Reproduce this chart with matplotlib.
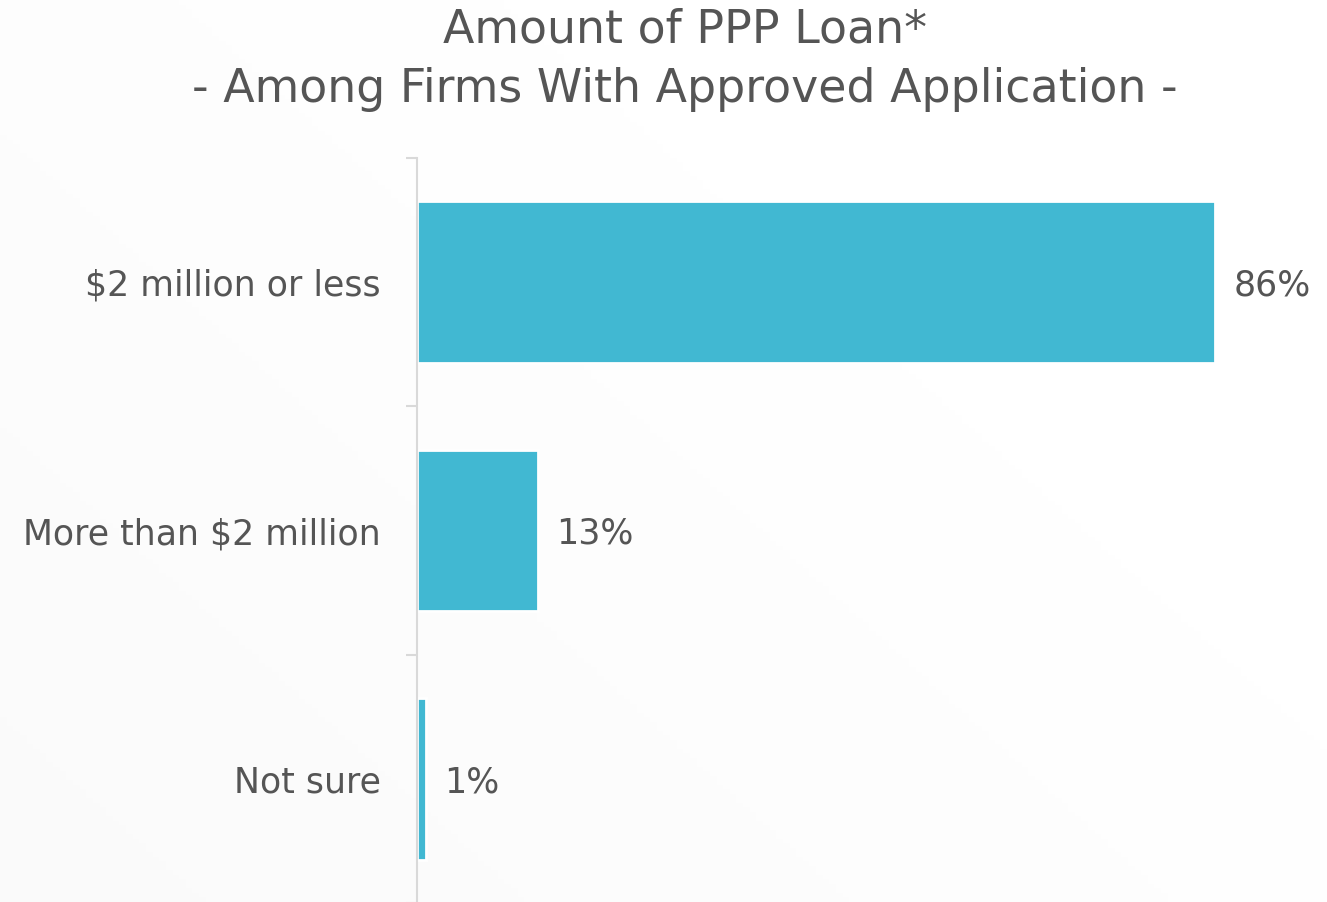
import matplotlib.pyplot as plt
import numpy as np

# datos
categories = ["$2 million or less", "More than $2 million", "Not sure"]
values = [86, 13, 1]
value_labels = ["86%", "13%", "1%"]

title_lines = ["Amount of PPP Loan*", "- Among Firms With Approved Application -"]

BAR_COLOR = "#41B8D2"
TEXT_COLOR = "#555555"
AXIS_COLOR = "#D9D9D9"

plt.rcParams['font.family'] = ['DejaVu Sans']

W, H = 1327, 902
fig = plt.figure(figsize=(W / 100, H / 100), dpi=100)
fig.patch.set_facecolor("white")

# fondo con degradado suave
bg = fig.add_axes([0, 0, 1, 1], zorder=-10)
gx, gy = np.meshgrid(np.linspace(0, 1, 200), np.linspace(0, 1, 200))
grad = np.clip(1 - (gx * 0.8 + (1 - gy) * 0.6), 0, 1)
bg.imshow(grad, cmap="Greys", vmin=0, vmax=25, aspect="auto", extent=[0, 1, 0, 1])
bg.axis("off")

ax = fig.add_axes([417 / W, -1 / H, (W - 417) / W, 745 / H])
ax.patch.set_alpha(0)

y = np.arange(len(categories))
ax.barh(y, values, height=0.65, color=BAR_COLOR, edgecolor="white", linewidth=2)

ax.set_xlim(0, (W - 417) / 9.28)
ax.set_ylim(len(categories) - 0.5, -0.5)

for yi, v, lab in zip(y, values, value_labels):
    ax.annotate(lab, xy=(v, yi), xytext=(13, 0), textcoords="offset points",
                ha="left", va="center_baseline", fontsize=25, color=TEXT_COLOR)

ax.set_yticks(y)
ax.set_yticklabels(categories, fontsize=25, color=TEXT_COLOR, va="center_baseline")
ax.set_yticks(np.arange(len(categories) + 1) - 0.5, minor=True)
ax.tick_params(axis="y", which="major", length=0, pad=26)
ax.tick_params(axis="y", which="minor", length=8, width=1.5, color=AXIS_COLOR)
ax.set_xticks([])

for side in ["top", "right", "bottom"]:
    ax.spines[side].set_visible(False)
ax.spines["left"].set_color(AXIS_COLOR)
ax.spines["left"].set_linewidth(1.5)

fig.text(0.516, 1 - 30 / H, title_lines[0], ha="center", va="center",
         fontsize=33, color=TEXT_COLOR)
fig.text(0.516, 1 - 90 / H, title_lines[1], ha="center", va="center",
         fontsize=33, color=TEXT_COLOR)

fig.savefig("out.png", dpi=100)
